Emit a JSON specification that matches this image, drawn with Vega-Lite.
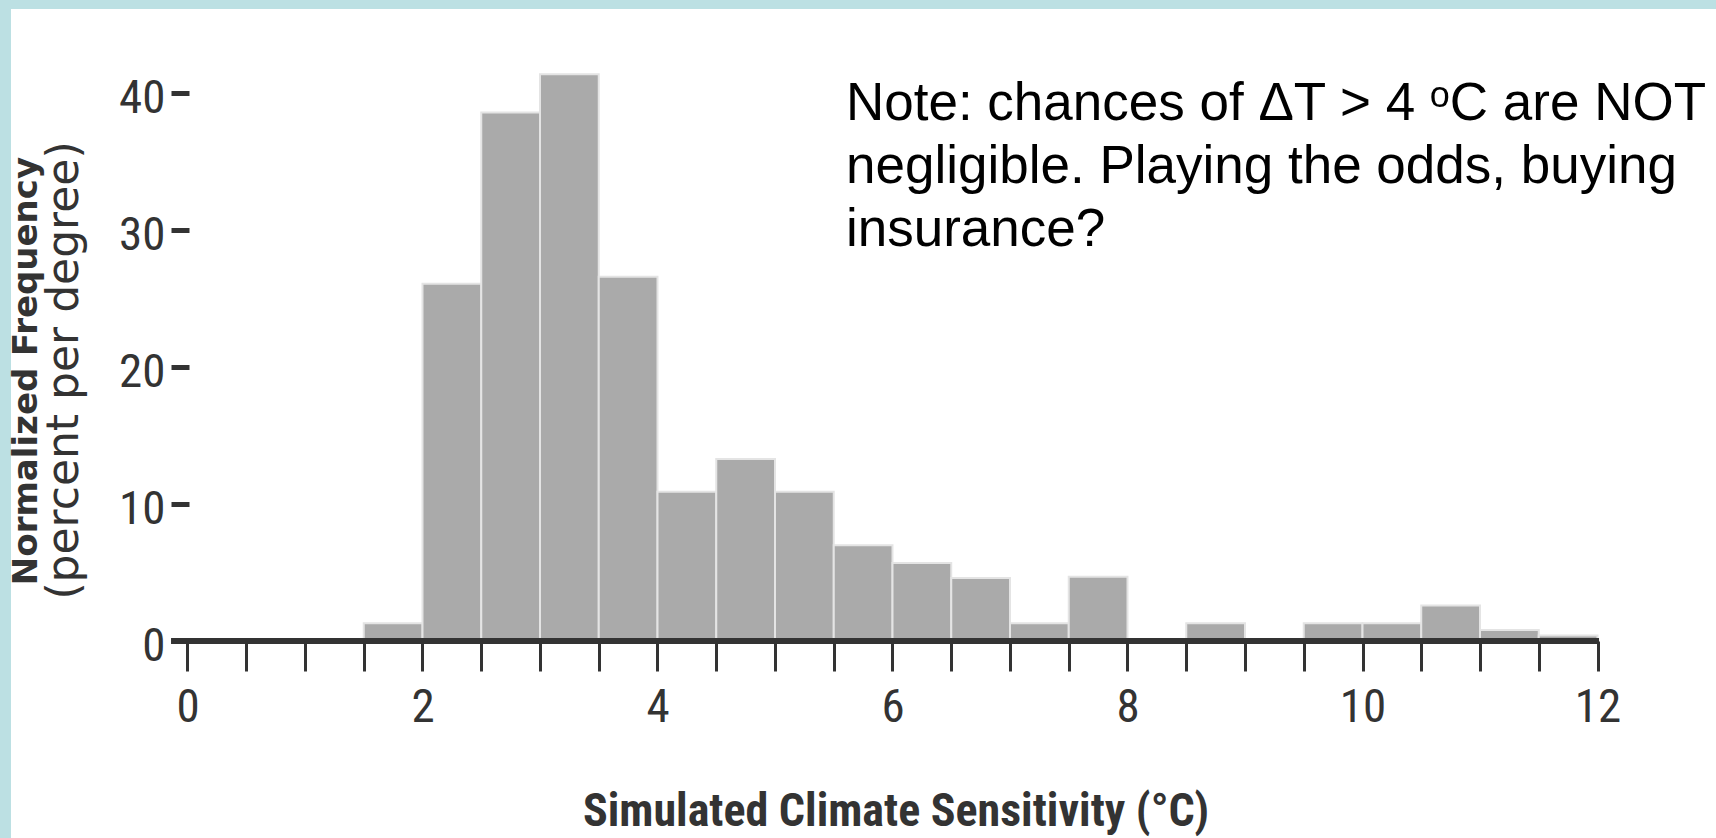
{
  "$schema": "https://vega.github.io/schema/vega-lite/v6.json",
  "width": 1705,
  "height": 829,
  "autosize": {"type": "none"},
  "padding": {"left": 11, "top": 9, "right": 0, "bottom": 0},
  "background": "#bce0e3",
  "config": {"view": {"fill": "white", "stroke": null}},
  "datasets": {
    "bins": [
      {"lo": 1.5, "hi": 2.0, "pct": 1.3},
      {"lo": 2.0, "hi": 2.5, "pct": 26.1},
      {"lo": 2.5, "hi": 3.0, "pct": 38.6},
      {"lo": 3.0, "hi": 3.5, "pct": 41.4},
      {"lo": 3.5, "hi": 4.0, "pct": 26.6},
      {"lo": 4.0, "hi": 4.5, "pct": 10.9},
      {"lo": 4.5, "hi": 5.0, "pct": 13.3},
      {"lo": 5.0, "hi": 5.5, "pct": 10.9},
      {"lo": 5.5, "hi": 6.0, "pct": 7.0},
      {"lo": 6.0, "hi": 6.5, "pct": 5.7},
      {"lo": 6.5, "hi": 7.0, "pct": 4.6},
      {"lo": 7.0, "hi": 7.5, "pct": 1.3},
      {"lo": 7.5, "hi": 8.0, "pct": 4.7},
      {"lo": 8.5, "hi": 9.0, "pct": 1.3},
      {"lo": 9.5, "hi": 10.0, "pct": 1.3},
      {"lo": 10.0, "hi": 10.5, "pct": 1.3},
      {"lo": 10.5, "hi": 11.0, "pct": 2.6},
      {"lo": 11.0, "hi": 11.5, "pct": 0.8},
      {"lo": 11.5, "hi": 12.0, "pct": 0.4}
    ],
    "note": [
      {"text": "Note: chances of ΔT > 4 ᵒC are NOT\nnegligible. Playing the odds, buying\ninsurance?"}
    ],
    "ytitle": [
      {"text": "Normalized Frequency"}
    ]
  },
  "layer": [
    {
      "data": {"name": "bins"},
      "mark": {"type": "rect", "fill": "#aaaaaa", "stroke": "#e4e4e4", "strokeWidth": 2},
      "encoding": {
        "x": {
          "field": "lo",
          "type": "quantitative",
          "scale": {"domain": [-1.5021, 13.0085], "nice": false, "zero": false},
          "axis": {
            "orient": "bottom",
            "offset": -197,
            "values": [0, 0.5, 1, 1.5, 2, 2.5, 3, 3.5, 4, 4.5, 5, 5.5, 6, 6.5, 7, 7.5, 8, 8.5, 9, 9.5, 10, 10.5, 11, 11.5, 12],
            "domain": false,
            "grid": false,
            "ticks": true,
            "tickColor": "#333333",
            "tickWidth": 3,
            "tickSize": 30,
            "labelExpr": "datum.value % 2 === 0 ? '' + datum.value : ''",
            "labelFont": "Roboto Condensed, DejaVu Sans Condensed, sans-serif",
            "labelFontSize": 47,
            "labelColor": "#333333",
            "labelPadding": 13,
            "labelOverlap": false,
            "labelFlush": false,
            "title": "Simulated Climate Sensitivity (°C)",
            "titleFont": "Roboto Condensed, DejaVu Sans Condensed, sans-serif",
            "titleFontWeight": "bold",
            "titleFontSize": 46,
            "titleColor": "#333333",
            "titleX": 884.5,
            "titleY": 184,
            "titleBaseline": "alphabetic",
            "titleAlign": "center",
            "encode": {"ticks": {"update": {"y2": {"signal": "datum.value % 2 === 0 ? 30 : 19"}}}}
          }
        },
        "x2": {"field": "hi"},
        "y": {
          "field": "pct",
          "type": "quantitative",
          "scale": {"domain": [-14.39, 46.165], "nice": false, "zero": false},
          "axis": {
            "orient": "left",
            "offset": -178,
            "values": [0, 10, 20, 30, 40],
            "domain": false,
            "grid": false,
            "tickColor": "#333333",
            "tickWidth": 5,
            "tickSize": 18,
            "labelFont": "Roboto Condensed, DejaVu Sans Condensed, sans-serif",
            "labelFontSize": 47,
            "labelColor": "#333333",
            "labelPadding": 6,
            "labelOffset": 5,
            "title": "(percent per degree)",
            "titleFont": "DejaVu Sans",
            "titleFontWeight": "normal",
            "titleFontSize": 44,
            "titleColor": "#333333",
            "titleAngle": 270,
            "titleX": -112,
            "titleY": 361,
            "titleBaseline": "alphabetic",
            "titleAlign": "center"
          }
        },
        "y2": {"datum": 0}
      }
    },
    {
      "data": {"values": [{}]},
      "mark": {"type": "rule", "stroke": "#333333", "strokeWidth": 6},
      "encoding": {
        "x": {"datum": -0.14},
        "x2": {"datum": 12.013},
        "y": {"datum": 0}
      }
    },
    {
      "data": {"name": "ytitle"},
      "mark": {
        "type": "text",
        "angle": 270,
        "align": "center",
        "baseline": "alphabetic",
        "font": "DejaVu Sans",
        "fontWeight": "bold",
        "fontSize": 34,
        "color": "#333333"
      },
      "encoding": {
        "x": {"datum": -1.281},
        "y": {"datum": 19.72},
        "text": {"field": "text"}
      }
    },
    {
      "data": {"name": "note"},
      "mark": {
        "type": "text",
        "align": "left",
        "baseline": "top",
        "lineBreak": "\n",
        "lineHeight": 63,
        "font": "Liberation Sans, Arial, sans-serif",
        "fontSize": 53,
        "color": "#000000"
      },
      "encoding": {
        "x": {"datum": 5.604},
        "y": {"datum": 41.12},
        "text": {"field": "text"}
      }
    }
  ]
}
